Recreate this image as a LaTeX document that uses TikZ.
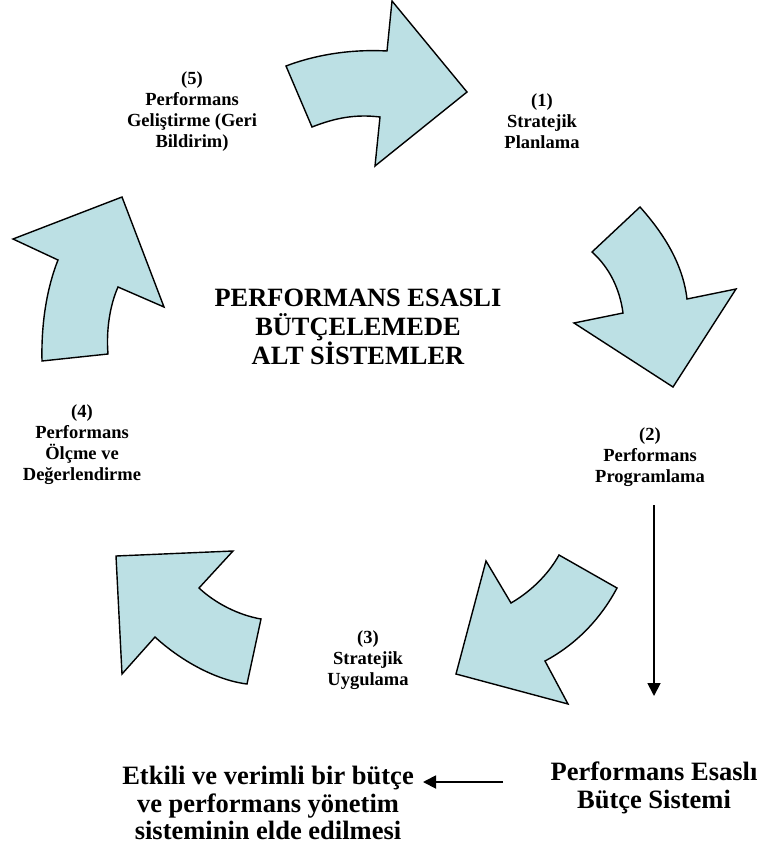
\documentclass[tikz,border=0pt]{standalone}
\usepackage{fontspec}
\setmainfont{Liberation Serif}
\usetikzlibrary{arrows.meta}
\definecolor{arrowfill}{HTML}{BCE0E4}
\tikzset{
  bigarrow/.style={draw=black, line width=1.4pt, fill=arrowfill, line join=miter},
  lbl/.style={align=center, font=\fontsize{18.5}{21}\selectfont\bfseries, inner sep=0pt},
  title/.style={align=center, font=\fontsize{26.4}{29}\selectfont\bfseries, inner sep=0pt},
  bottomtxt/.style={align=center, font=\fontsize{26.5}{27.5}\selectfont\bfseries, inner sep=0pt},
  conn/.style={line width=1.8pt, -{Triangle[length=13pt,width=13pt]}}
}
\begin{document}
\begin{tikzpicture}[x=1pt,y=-1pt]
\useasboundingbox (0,0) rectangle (761,848);
% arrow 1 (top)
\path[bigarrow] (286,66) .. controls (315,55) and (350,49) .. (387,51) -- (392,1) -- (467,92) -- (375,166) -- (380,117) .. controls (355,114) and (335,118) .. (312,127) -- cycle;
% arrow 2 (right)
\path[bigarrow] (640,207) .. controls (665,235) and (683,265) .. (687,299) -- (736,289) -- (673,387) -- (574,323) -- (623,313) .. controls (620,290) and (610,268) .. (592,252) -- cycle;
% arrow 3 (bottom right)
\path[bigarrow] (559,555) -- (617,588) .. controls (600,620) and (575,645) .. (545,661) -- (568,704) -- (456,674) -- (486,561) -- (511,603) .. controls (530,592) and (548,575) .. (559,555) -- cycle;
% arrow 4 (bottom left)
\path[bigarrow] (116,556) -- (233,551) -- (199,588) .. controls (215,603) and (238,615) .. (261,619) -- (247,684) .. controls (215,680) and (180,660) .. (155,637) -- (122,674) -- cycle;
% arrow 5 (left)
\path[bigarrow] (42,361) -- (108,354) .. controls (106,330) and (110,305) .. (118,287) -- (164,307) -- (122,197) -- (13,239) -- (58,260) .. controls (48,285) and (41,320) .. (42,361) -- cycle;

\node[lbl] (l1) at (542,121) {(1)\\Stratejik\\Planlama};
\node[lbl] (l2) at (650,457) {(2)\\Performans\\Programlama};
\node[lbl] (l3) at (368,660) {(3)\\Stratejik\\Uygulama};
\node[lbl] (l4) at (82,445) {(4)\\Performans\\Ölçme ve\\Değerlendirme};
\node[lbl] (l5) at (192,112) {(5)\\Performans\\Geliştirme (Geri\\Bildirim)};
\node[title] (center) at (358,327) {PERFORMANS ESASLI\\BÜTÇELEMEDE\\ALT SİSTEMLER};
\node[bottomtxt] (pebs) at (654,788) {Performans Esaslı\\Bütçe Sistemi};
\node[bottomtxt] (goal) at (268,803) {Etkili ve verimli bir bütçe\\ve performans yönetim\\sisteminin elde edilmesi};

\coordinate (vtop) at (654,505);
\coordinate (vbot) at (654,696);
\coordinate (hright) at (503,782);
\coordinate (hleft) at (423,782);
\draw[conn] (vtop) -- (vbot);
\draw[conn] (hright) -- (hleft);
\end{tikzpicture}
\end{document}
